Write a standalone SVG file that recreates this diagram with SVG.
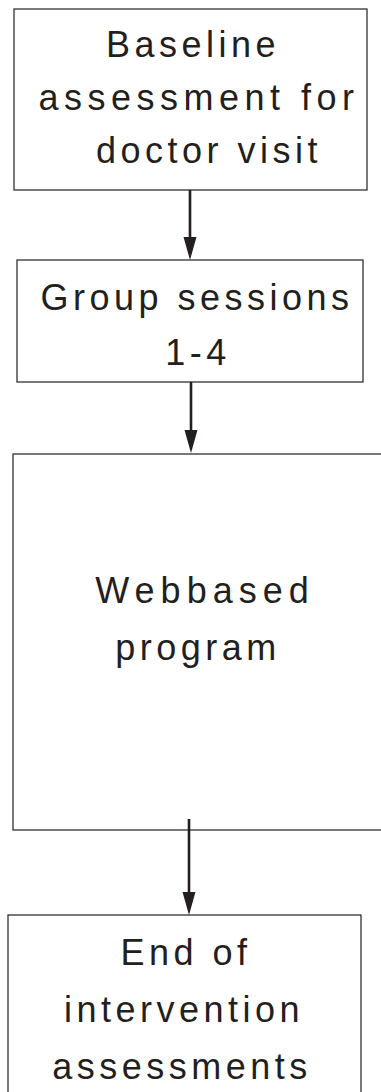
<svg xmlns="http://www.w3.org/2000/svg" width="381" height="1092" viewBox="0 0 381 1092">
<defs>
<style>
.box{fill:#fff;stroke:#231f20;stroke-width:1.2}
.t{font-family:"Liberation Sans",Arial,sans-serif;font-size:36px;fill:#231f20;letter-spacing:4.5px;text-anchor:middle}
.c{stroke:#231f20;stroke-width:2.6;fill:none}
.h{fill:#231f20}
</style>
</defs>
<rect width="381" height="1092" fill="#fff"/>
<g id="n1">
<rect class="box" x="14" y="9" width="353" height="181"/>
<text class="t" x="193" y="57">Baseline</text>
<text class="t" x="199" y="110" style="letter-spacing:5.5px">assessment for</text>
<text class="t" x="209" y="163">doctor visit</text>
</g>
<g id="n2">
<rect class="box" x="17" y="260" width="346" height="122"/>
<text class="t" x="197" y="310">Group sessions</text>
<text class="t" x="198" y="365">1-4</text>
</g>
<g id="n3">
<rect class="box" x="13" y="454" width="380" height="376"/>
<text class="t" x="205" y="603" style="letter-spacing:6px">Webbased</text>
<text class="t" x="198" y="660">program</text>
</g>
<g id="n4">
<rect class="box" x="8" y="915" width="353" height="200"/>
<text class="t" x="186" y="965">End of</text>
<text class="t" x="184" y="1022">intervention</text>
<text class="t" x="182" y="1079">assessments</text>
</g>
<g id="connectors">
<line class="c" x1="190" y1="190" x2="190" y2="240"/>
<path class="h" d="M183.5,237 L196.5,237 L190,260 Z"/>
<line class="c" x1="191" y1="382" x2="191" y2="432"/>
<path class="h" d="M184.5,430 L197.5,430 L191,453 Z"/>
<line class="c" x1="189" y1="819" x2="189" y2="895"/>
<path class="h" d="M182.5,892 L195.5,892 L189,915 Z"/>
</g>
</svg>
